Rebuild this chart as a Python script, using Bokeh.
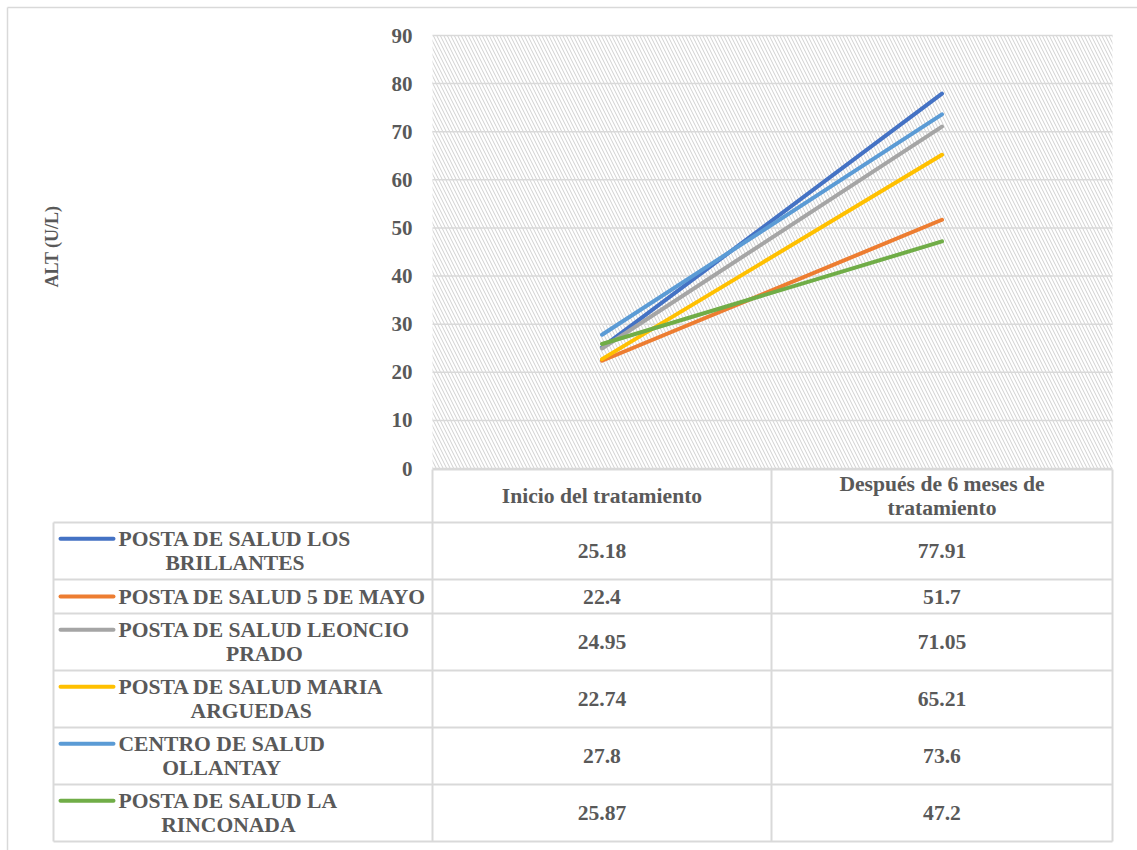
import math
import textwrap
from bokeh.plotting import figure
from bokeh.models import Range1d
from bokeh.core.properties import value
from bokeh.embed import file_html
from bokeh.resources import INLINE

# ---------------- data ----------------
categories = ["Inicio del tratamiento", "Después de 6 meses de tratamiento"]
series = [
    "POSTA DE SALUD LOS\nBRILLANTES",
    "POSTA DE SALUD 5 DE MAYO",
    "POSTA DE SALUD LEONCIO\nPRADO",
    "POSTA DE SALUD MARIA\nARGUEDAS",
    "CENTRO DE SALUD\nOLLANTAY",
    "POSTA DE SALUD LA\nRINCONADA",
]
inicio = [25.18, 22.4, 24.95, 22.74, 27.8, 25.87]
despues = [77.91, 51.7, 71.05, 65.21, 73.6, 47.2]
colors = ["#4472C4", "#ED7D31", "#A5A5A5", "#FFC000", "#5B9BD5", "#70AD47"]
y_ticks = [0, 10, 20, 30, 40, 50, 60, 70, 80, 90]
y_label = "ALT (U/L)"

# ---------------- layout ----------------
W, H = 1137, 850
PL, PR, PT, PB = 432, 1112, 35, 468      # plot area (pixels)
COL = 771                                 # split between the two value columns
LEG_L = 53                                # left edge of legend column
YMAX = 90
k = (PB - PT) / YMAX
c0 = (PL + COL) / 2
c1 = (COL + PR) / 2
d = c1 - c0

FONT = value("Liberation Serif")
TXT = "#595959"
GRID = "#d9d9d9"
FS = "21px"
FS_T = "21.6px"

p = figure(width=W, height=H, x_range=Range1d(0, W), y_range=Range1d(H, 0),
           min_border=0, toolbar_location=None, output_backend="svg",
           x_axis_location=None, y_axis_location=None)
p.outline_line_color = None
p.background_fill_color = "white"
p.border_fill_color = "white"
p.xgrid.visible = False
p.ygrid.visible = False

p.extra_y_ranges = {"alt": Range1d(start=(PB - H) / k, end=PB / k)}
p.extra_x_ranges = {"cat": Range1d(start=-c0 / d, end=(W - c0) / d)}

# outer frame (top and left edges)
p.segment(x0=[7, 7], y0=[7, 7], x1=[W + 5, 7], y1=[7, H + 5], line_color=GRID, line_width=1.5)

# plot area with hatch
p.quad(left=PL, right=PR, top=PT, bottom=PB, fill_color="white", line_color=None,
       hatch_pattern="left_diagonal_line", hatch_color="#d0d0d0", hatch_scale=7, hatch_weight=1)

# gridlines
p.segment(x0=[PL] * len(y_ticks), x1=[PR] * len(y_ticks), y0=y_ticks, y1=y_ticks,
          y_range_name="alt", line_color=GRID, line_width=1.5)

# tick labels
p.text(x=[PL - 20] * len(y_ticks), y=y_ticks, text=[str(t) for t in y_ticks],
       y_range_name="alt", text_align="right", text_baseline="middle",
       text_font=FONT, text_font_style="bold", text_font_size=FS, text_color=TXT)

# axis title
p.text(x=[51], y=[246], text=[y_label], angle=math.pi / 2, text_align="center",
       text_baseline="middle", text_font=FONT, text_font_style="bold",
       text_font_size="18px", text_color=TXT)

# series lines
for i in range(len(series)):
    p.line(x=[0, 1], y=[inicio[i], despues[i]], x_range_name="cat", y_range_name="alt",
           line_color=colors[i], line_width=4, line_cap="round")

# ---------------- data table ----------------
HEAD_T, HEAD_B = PB + 1, 522
row_tops = [HEAD_B]
for s in series:
    nl = s.count("\n") + 1
    row_tops.append(row_tops[-1] + 11 + 23 * nl)
TB = row_tops[-1]

hx0 = [PL] + [LEG_L] * len(row_tops)
hx1 = [PR] * (len(row_tops) + 1)
hy = [HEAD_T] + row_tops
p.segment(x0=hx0, x1=hx1, y0=hy, y1=hy, line_color=GRID, line_width=2)
p.segment(x0=[LEG_L, PL, COL, PR], x1=[LEG_L, PL, COL, PR],
          y0=[HEAD_B, HEAD_T, HEAD_T, HEAD_T], y1=[TB] * 4, line_color=GRID, line_width=2)

# header
head_txt = ["\n".join(textwrap.wrap(c, 22)) for c in categories]
p.text(x=[0, 1], y=[(HEAD_T + HEAD_B) / 2] * 2, text=head_txt, x_range_name="cat",
       text_align="center", text_baseline="middle", text_line_height=0.96,
       text_font=FONT, text_font_style="bold", text_font_size=FS_T, text_color=TXT)

LH = 24.5
for i, s in enumerate(series):
    top, bot = row_tops[i], row_tops[i + 1]
    cy = (top + bot) / 2
    nl = s.count("\n") + 1
    sy = cy - (nl - 1) * LH / 2
    p.segment(x0=[60], x1=[113], y0=[sy], y1=[sy], line_color=colors[i],
              line_width=4, line_cap="round")
    p.text(x=[118], y=[cy], text=[s], anchor="center_left", text_align="center",
           text_line_height=0.98, text_font=FONT, text_font_style="bold",
           text_font_size=FS_T, text_color=TXT)
    p.text(x=[0, 1], y=[cy, cy], text=[f"{inicio[i]:g}", f"{despues[i]:g}"],
           x_range_name="cat", text_align="center", text_baseline="middle",
           text_font=FONT, text_font_style="bold", text_font_size=FS_T, text_color=TXT)

open("out.html", "w").write(file_html(p, INLINE))
